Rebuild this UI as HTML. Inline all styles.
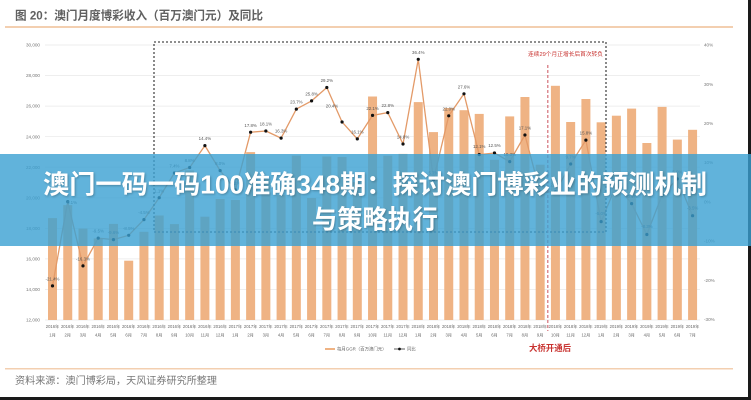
<!DOCTYPE html>
<html>
<head>
<meta charset="utf-8">
<style>
html,body{margin:0;padding:0;background:#fff;}
body{width:751px;height:400px;overflow:hidden;}
svg{display:block;}
.t{font-family:"Liberation Sans","Noto Sans CJK SC",sans-serif;}
</style>
</head>
<body>
<svg width="751" height="400" viewBox="0 0 751 400" xmlns="http://www.w3.org/2000/svg" class="t">
<rect x="0" y="0" width="751" height="400" fill="#fff"/>
<!-- title -->
<text x="15" y="19.6" font-size="12" font-weight="bold" fill="#606060" textLength="248" lengthAdjust="spacingAndGlyphs">图 20：澳门月度博彩收入（百万澳门元）及同比</text>
<rect x="5" y="26" width="728" height="2" fill="#f3cfb0"/>

<!-- gridlines -->
<g stroke="#e8e8e8" stroke-width="0.7">
<line x1="45" y1="45" x2="700" y2="45"/>
<line x1="45" y1="75.6" x2="700" y2="75.6"/>
<line x1="45" y1="106.1" x2="700" y2="106.1"/>
<line x1="45" y1="136.7" x2="700" y2="136.7"/>
<line x1="45" y1="167.2" x2="700" y2="167.2"/>
<line x1="45" y1="197.8" x2="700" y2="197.8"/>
<line x1="45" y1="228.3" x2="700" y2="228.3"/>
<line x1="45" y1="258.9" x2="700" y2="258.9"/>
<line x1="45" y1="289.4" x2="700" y2="289.4"/>
<line x1="45" y1="320" x2="700" y2="320"/>
</g>
<!-- left axis labels -->
<g font-size="4.6" fill="#777" text-anchor="end">
<text x="40" y="46.6">30,000</text>
<text x="40" y="77.2">28,000</text>
<text x="40" y="107.7">26,000</text>
<text x="40" y="138.3">24,000</text>
<text x="40" y="168.8">22,000</text>
<text x="40" y="199.4">20,000</text>
<text x="40" y="229.9">18,000</text>
<text x="40" y="260.5">16,000</text>
<text x="40" y="291">14,000</text>
<text x="40" y="321.6">12,000</text>
</g>
<!-- right axis labels -->
<g font-size="4.6" fill="#777">
<text x="704" y="46.6">40%</text>
<text x="704" y="85.8">30%</text>
<text x="704" y="125">20%</text>
<text x="704" y="164.2">10%</text>
<text x="704" y="203.4">0%</text>
<text x="704" y="242.6">-10%</text>
<text x="704" y="281.8">-20%</text>
<text x="704" y="321">-30%</text>
</g>

<!-- bars -->
<g fill="#efb384">
<rect x="48" y="218.1" width="9" height="101.9"/>
<rect x="63.24" y="205.1" width="9" height="114.9"/>
<rect x="78.48" y="228.6" width="9" height="91.4"/>
<rect x="93.72" y="238.4" width="9" height="81.6"/>
<rect x="108.96" y="223.9" width="9" height="96.1"/>
<rect x="124.2" y="260.7" width="9" height="59.3"/>
<rect x="139.44" y="231.8" width="9" height="88.2"/>
<rect x="154.68" y="215.5" width="9" height="104.5"/>
<rect x="169.92" y="224.1" width="9" height="95.9"/>
<rect x="185.16" y="170.4" width="9" height="149.6"/>
<rect x="200.4" y="216.7" width="9" height="103.3"/>
<rect x="215.64" y="199" width="9" height="121"/>
<rect x="230.88" y="200" width="9" height="120"/>
<rect x="246.12" y="152.1" width="9" height="167.9"/>
<rect x="261.36" y="179" width="9" height="141"/>
<rect x="276.6" y="195.2" width="9" height="124.8"/>
<rect x="291.84" y="155.6" width="9" height="164.4"/>
<rect x="307.08" y="198" width="9" height="122"/>
<rect x="322.32" y="156.5" width="9" height="163.5"/>
<rect x="337.56" y="157" width="9" height="163"/>
<rect x="352.8" y="182.1" width="9" height="137.9"/>
<rect x="368.04" y="96.5" width="9" height="223.5"/>
<rect x="383.28" y="155.7" width="9" height="164.3"/>
<rect x="398.52" y="153.9" width="9" height="166.1"/>
<rect x="413.76" y="102.1" width="9" height="217.9"/>
<rect x="429" y="132.1" width="9" height="187.9"/>
<rect x="444.24" y="108" width="9" height="212"/>
<rect x="459.48" y="110.2" width="9" height="209.8"/>
<rect x="474.72" y="113.9" width="9" height="206.1"/>
<rect x="489.96" y="159.8" width="9" height="160.2"/>
<rect x="505.2" y="116.4" width="9" height="203.6"/>
<rect x="520.44" y="97" width="9" height="223"/>
<rect x="535.68" y="164.7" width="9" height="155.3"/>
<rect x="550.92" y="85.8" width="9" height="234.2"/>
<rect x="566.16" y="122" width="9" height="198"/>
<rect x="581.4" y="99" width="9" height="221"/>
<rect x="596.64" y="122.3" width="9" height="197.7"/>
<rect x="611.88" y="115.7" width="9" height="204.3"/>
<rect x="627.12" y="108.6" width="9" height="211.4"/>
<rect x="642.36" y="143" width="9" height="177"/>
<rect x="657.6" y="106.9" width="9" height="213.1"/>
<rect x="672.84" y="139.6" width="9" height="180.4"/>
<rect x="688.08" y="129.8" width="9" height="190.2"/>
</g>

<!-- YoY line -->
<polyline fill="none" stroke="#e39a68" stroke-width="1.3" stroke-linejoin="round" points="52.5,285.9 67.74,201.6 82.98,265.9 98.22,238.1 113.46,239.6 128.7,235.3 143.94,219.6 159.18,197.7 174.42,173 189.66,167.5 204.9,145.6 220.14,170.6 235.38,189.8 250.62,132.2 265.86,131 281.1,138.1 296.34,109.1 311.58,100.9 326.82,87.5 342.06,122 357.3,138.9 372.54,115.4 387.78,112.6 403.02,144 418.26,59.3 433.5,179.7 448.74,115.8 463.98,93.8 479.22,154.6 494.46,153 509.7,161.6 524.94,135 540.18,192.2 555.42,191.8 570.66,164 585.9,140.1 601.14,221.6 616.38,184.8 631.62,203.6 646.86,234.5 662.1,194.9 677.34,178.9 692.58,215.7"/>
<g fill="#111">
<circle cx="52.5" cy="285.9" r="1.6"/><circle cx="67.74" cy="201.6" r="1.6"/><circle cx="82.98" cy="265.9" r="1.6"/><circle cx="98.22" cy="238.1" r="1.6"/><circle cx="113.46" cy="239.6" r="1.6"/><circle cx="128.7" cy="235.3" r="1.6"/><circle cx="143.94" cy="219.6" r="1.6"/><circle cx="159.18" cy="197.7" r="1.6"/><circle cx="174.42" cy="173" r="1.6"/><circle cx="189.66" cy="167.5" r="1.6"/><circle cx="204.9" cy="145.6" r="1.6"/><circle cx="220.14" cy="170.6" r="1.6"/><circle cx="235.38" cy="189.8" r="1.6"/><circle cx="250.62" cy="132.2" r="1.6"/><circle cx="265.86" cy="131" r="1.6"/><circle cx="281.1" cy="138.1" r="1.6"/><circle cx="296.34" cy="109.1" r="1.6"/><circle cx="311.58" cy="100.9" r="1.6"/><circle cx="326.82" cy="87.5" r="1.6"/><circle cx="342.06" cy="122" r="1.6"/><circle cx="357.3" cy="138.9" r="1.6"/><circle cx="372.54" cy="115.4" r="1.6"/><circle cx="387.78" cy="112.6" r="1.6"/><circle cx="403.02" cy="144" r="1.6"/><circle cx="418.26" cy="59.3" r="1.6"/><circle cx="433.5" cy="179.7" r="1.6"/><circle cx="448.74" cy="115.8" r="1.6"/><circle cx="463.98" cy="93.8" r="1.6"/><circle cx="479.22" cy="154.6" r="1.6"/><circle cx="494.46" cy="153" r="1.6"/><circle cx="509.7" cy="161.6" r="1.6"/><circle cx="524.94" cy="135" r="1.6"/><circle cx="540.18" cy="192.2" r="1.6"/><circle cx="555.42" cy="191.8" r="1.6"/><circle cx="570.66" cy="164" r="1.6"/><circle cx="585.9" cy="140.1" r="1.6"/><circle cx="601.14" cy="221.6" r="1.6"/><circle cx="616.38" cy="184.8" r="1.6"/><circle cx="631.62" cy="203.6" r="1.6"/><circle cx="646.86" cy="234.5" r="1.6"/><circle cx="662.1" cy="194.9" r="1.6"/><circle cx="677.34" cy="178.9" r="1.6"/><circle cx="692.58" cy="215.7" r="1.6"/>
</g>
<!-- point labels -->
<g font-size="4.4" fill="#555" text-anchor="middle">
<text x="52.5" y="280.5">-21.4%</text>
<text x="72" y="204">0.1%</text>
<text x="82.98" y="260.5">-16.3%</text>
<text x="98.22" y="232.7">-9.5%</text>
<text x="113.46" y="234.2">-9.6%</text>
<text x="128.7" y="229.9">-8.5%</text>
<text x="143.94" y="214.2">-4.5%</text>
<text x="159.18" y="192.3">1.1%</text>
<text x="174.42" y="167.6">7.4%</text>
<text x="189.66" y="162.1">8.8%</text>
<text x="204.9" y="140.2">14.4%</text>
<text x="220.14" y="165.2">8.0%</text>
<text x="235.38" y="184.4">3.1%</text>
<text x="250.62" y="126.8">17.8%</text>
<text x="265.86" y="125.6">18.1%</text>
<text x="281.1" y="132.7">16.3%</text>
<text x="296.34" y="103.7">23.7%</text>
<text x="311.58" y="95.5">25.8%</text>
<text x="326.82" y="82.1">29.2%</text>
<text x="332" y="107.5">20.4%</text>
<text x="357.3" y="133.5">16.1%</text>
<text x="372.54" y="110">22.1%</text>
<text x="387.78" y="107.2">22.8%</text>
<text x="403.02" y="138.6">14.8%</text>
<text x="418.26" y="53.9">36.4%</text>
<text x="433.5" y="174.3">5.7%</text>
<text x="448.74" y="110.4">22.0%</text>
<text x="463.98" y="88.4">27.6%</text>
<text x="479.22" y="148">12.1%</text>
<text x="494.46" y="147">12.5%</text>
<text x="509.7" y="156.2">10.3%</text>
<text x="524.94" y="129.6">17.1%</text>
<text x="540.18" y="186.8">2.5%</text>
<text x="555.42" y="186.4">2.6%</text>
<text x="570.66" y="158.6">9.7%</text>
<text x="585.9" y="134.7">15.8%</text>
<text x="601.14" y="215.2">-5.0%</text>
<text x="616.38" y="179.4">4.4%</text>
<text x="631.62" y="198.2">-0.4%</text>
<text x="646.86" y="228.2">-8.3%</text>
<text x="662.1" y="189.5">1.8%</text>
<text x="677.34" y="173.5">5.9%</text>
<text x="692.58" y="209.6">-3.5%</text>
</g>

<!-- dashed box -->
<rect x="154" y="42" width="452" height="190" fill="none" stroke="#4a4a4a" stroke-width="1.3" stroke-dasharray="2,2"/>
<text x="528" y="56" font-size="5.8" fill="#c8322f" textLength="75" lengthAdjust="spacingAndGlyphs">连续29个月正增长后首次转负</text>
<!-- bridge line -->
<line x1="547.8" y1="65" x2="547.8" y2="331" stroke="#d46f78" stroke-width="1.2" stroke-dasharray="3,2"/>

<!-- x labels -->
<g font-size="4.2" fill="#666" text-anchor="middle">
<text x="52.5" y="328">2016年</text><text x="67.74" y="328">2016年</text><text x="82.98" y="328">2016年</text><text x="98.22" y="328">2016年</text><text x="113.46" y="328">2016年</text><text x="128.7" y="328">2016年</text><text x="143.94" y="328">2016年</text><text x="159.18" y="328">2016年</text><text x="174.42" y="328">2016年</text><text x="189.66" y="328">2016年</text><text x="204.9" y="328">2016年</text><text x="220.14" y="328">2016年</text>
<text x="235.38" y="328">2017年</text><text x="250.62" y="328">2017年</text><text x="265.86" y="328">2017年</text><text x="281.1" y="328">2017年</text><text x="296.34" y="328">2017年</text><text x="311.58" y="328">2017年</text><text x="326.82" y="328">2017年</text><text x="342.06" y="328">2017年</text><text x="357.3" y="328">2017年</text><text x="372.54" y="328">2017年</text><text x="387.78" y="328">2017年</text><text x="403.02" y="328">2017年</text>
<text x="418.26" y="328">2018年</text><text x="433.5" y="328">2018年</text><text x="448.74" y="328">2018年</text><text x="463.98" y="328">2018年</text><text x="479.22" y="328">2018年</text><text x="494.46" y="328">2018年</text><text x="509.7" y="328">2018年</text><text x="524.94" y="328">2018年</text><text x="540.18" y="328">2018年</text><text x="555.42" y="328">2018年</text><text x="570.66" y="328">2018年</text><text x="585.9" y="328">2018年</text>
<text x="601.14" y="328">2019年</text><text x="616.38" y="328">2019年</text><text x="631.62" y="328">2019年</text><text x="646.86" y="328">2019年</text><text x="662.1" y="328">2019年</text><text x="677.34" y="328">2019年</text><text x="692.58" y="328">2019年</text>
</g>
<g font-size="4.2" fill="#666" text-anchor="middle">
<text x="52.5" y="336.5">1月</text><text x="67.74" y="336.5">2月</text><text x="82.98" y="336.5">3月</text><text x="98.22" y="336.5">4月</text><text x="113.46" y="336.5">5月</text><text x="128.7" y="336.5">6月</text><text x="143.94" y="336.5">7月</text><text x="159.18" y="336.5">8月</text><text x="174.42" y="336.5">9月</text><text x="189.66" y="336.5">10月</text><text x="204.9" y="336.5">11月</text><text x="220.14" y="336.5">12月</text>
<text x="235.38" y="336.5">1月</text><text x="250.62" y="336.5">2月</text><text x="265.86" y="336.5">3月</text><text x="281.1" y="336.5">4月</text><text x="296.34" y="336.5">5月</text><text x="311.58" y="336.5">6月</text><text x="326.82" y="336.5">7月</text><text x="342.06" y="336.5">8月</text><text x="357.3" y="336.5">9月</text><text x="372.54" y="336.5">10月</text><text x="387.78" y="336.5">11月</text><text x="403.02" y="336.5">12月</text>
<text x="418.26" y="336.5">1月</text><text x="433.5" y="336.5">2月</text><text x="448.74" y="336.5">3月</text><text x="463.98" y="336.5">4月</text><text x="479.22" y="336.5">5月</text><text x="494.46" y="336.5">6月</text><text x="509.7" y="336.5">7月</text><text x="524.94" y="336.5">8月</text><text x="540.18" y="336.5">9月</text><text x="555.42" y="336.5">10月</text><text x="570.66" y="336.5">11月</text><text x="585.9" y="336.5">12月</text>
<text x="601.14" y="336.5">1月</text><text x="616.38" y="336.5">2月</text><text x="631.62" y="336.5">3月</text><text x="646.86" y="336.5">4月</text><text x="662.1" y="336.5">5月</text><text x="677.34" y="336.5">6月</text><text x="692.58" y="336.5">7月</text>
</g>

<!-- legend -->
<rect x="325" y="348" width="10" height="2" fill="#efb384"/>
<text x="337" y="350.6" font-size="4.4" fill="#666">每月GGR（百万澳门元）</text>
<line x1="394" y1="349" x2="405" y2="349" stroke="#333" stroke-width="0.8"/>
<circle cx="399.5" cy="349" r="1.4" fill="#111"/>
<text x="407" y="350.6" font-size="4.4" fill="#666">同比</text>
<text x="529" y="351" font-size="8.4" font-weight="bold" fill="#c8322f" textLength="42" lengthAdjust="spacingAndGlyphs">大桥开通后</text>

<!-- footer -->
<rect x="5" y="368" width="728" height="1.5" fill="#f3cfb0"/>
<text x="15" y="383.8" font-size="10" fill="#777" textLength="202" lengthAdjust="spacingAndGlyphs">资料来源：澳门博彩局，天风证券研究所整理</text>

<!-- frame -->
<rect x="748" y="0" width="3" height="400" fill="#1a1a1a"/>
<rect x="0" y="397" width="751" height="3" fill="#1a1a1a"/>

<!-- banner overlay -->
<rect x="0" y="154" width="751" height="92" fill="#3aa0d2" fill-opacity="0.8"/>
<g font-family="'Liberation Sans','Noto Sans CJK SC',sans-serif" font-weight="bold" font-size="26" fill="#fff" text-anchor="middle" style="text-shadow:1px 1px 2px rgba(0,0,0,0.25)">
<text x="375" y="193.3" textLength="664" lengthAdjust="spacingAndGlyphs">澳门一码一码100准确348期：探讨澳门博彩业的预测机制</text>
<text x="375" y="228.3" textLength="126" lengthAdjust="spacingAndGlyphs">与策略执行</text>
</g>
</svg>
</body>
</html>
